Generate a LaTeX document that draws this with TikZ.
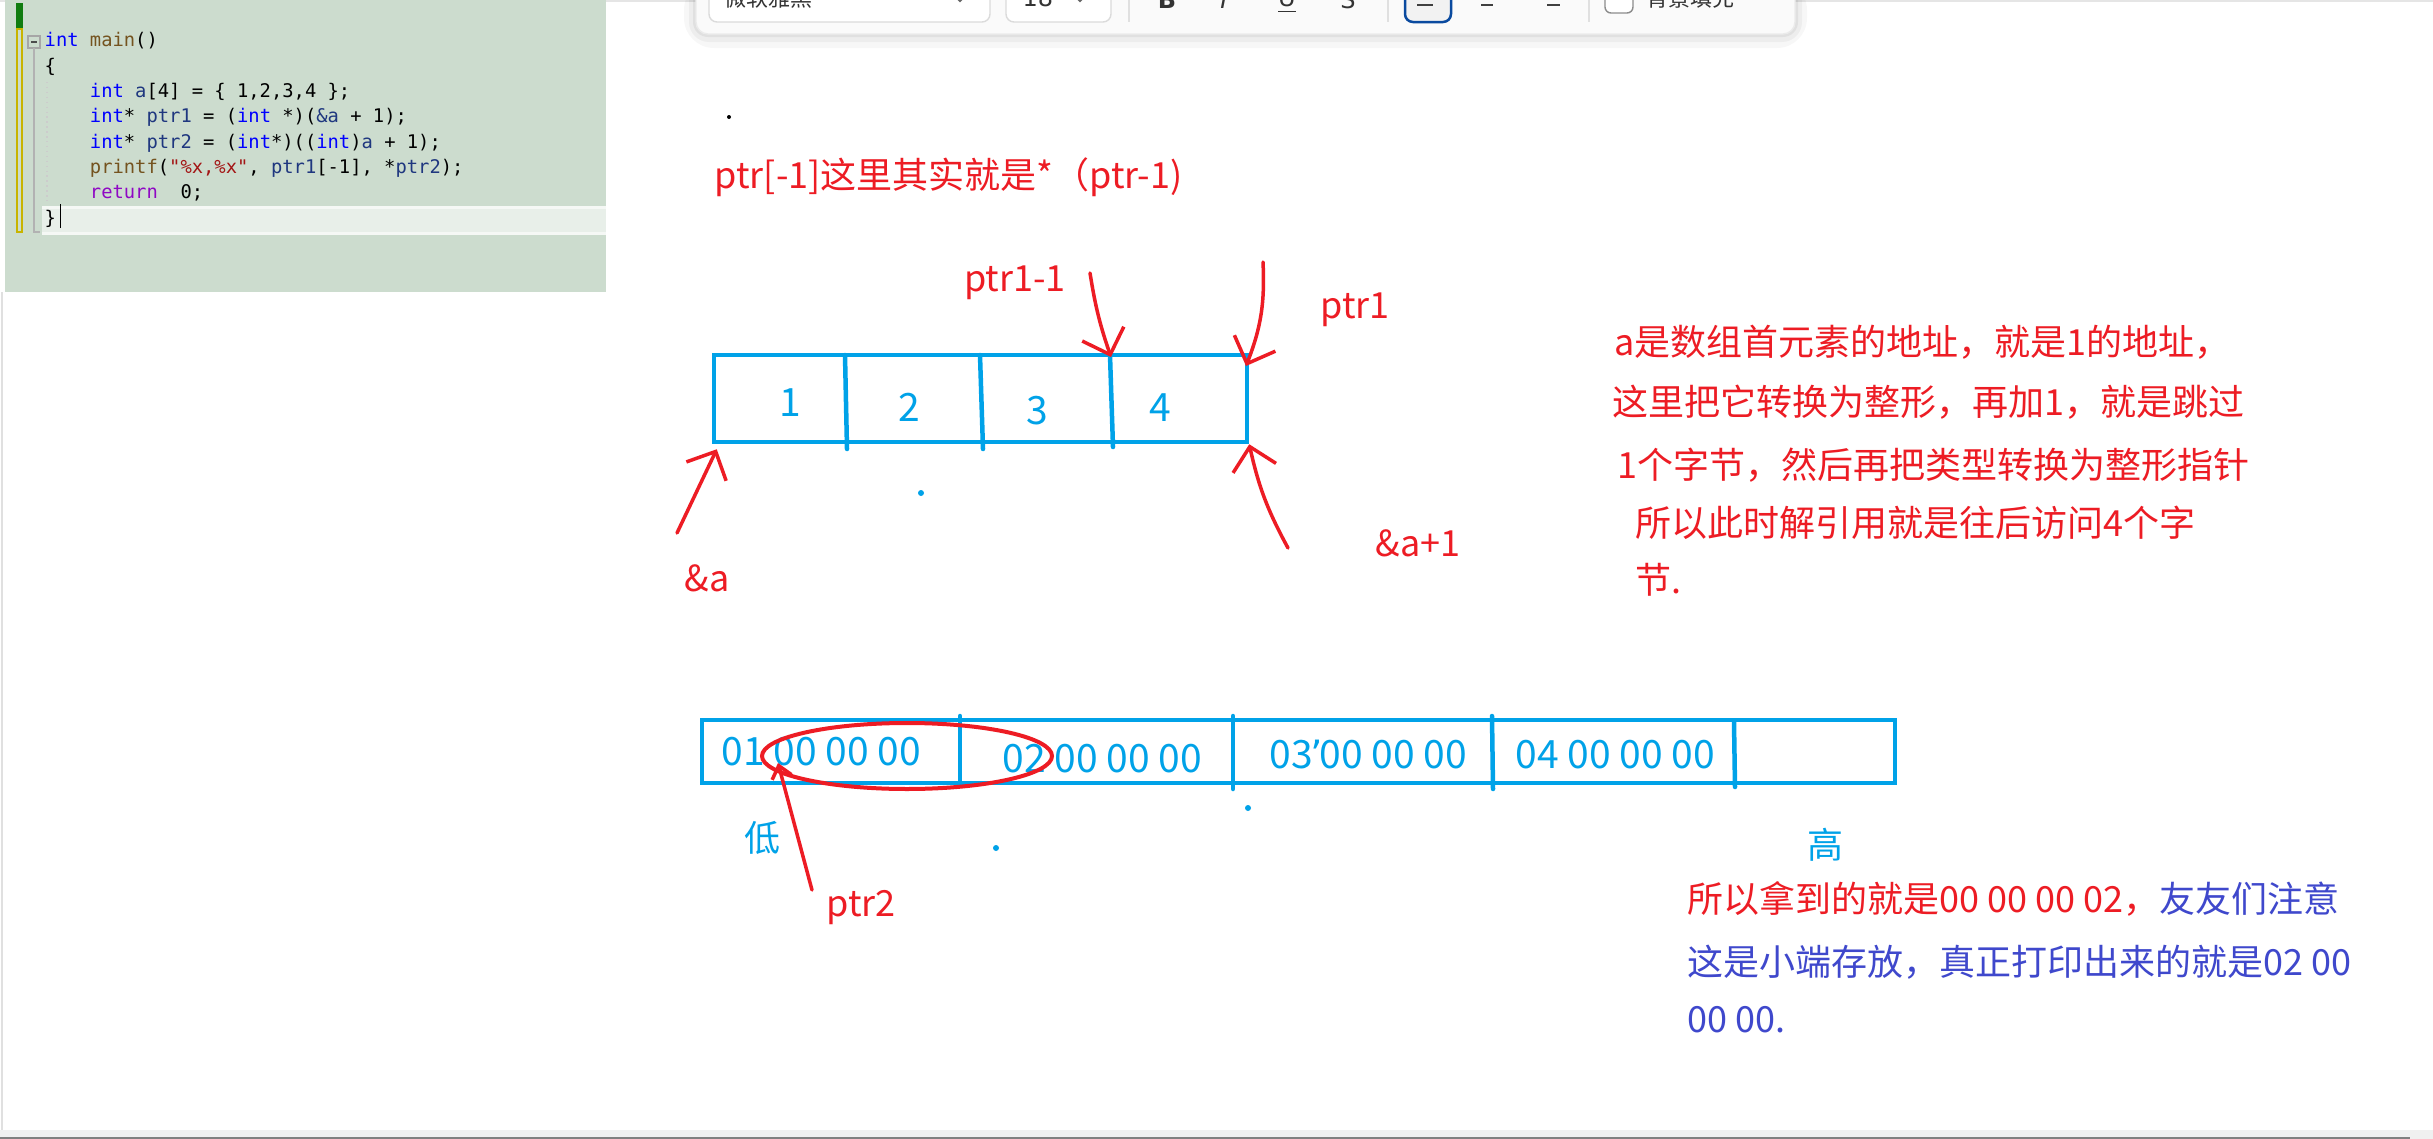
\documentclass[tikz,border=0pt]{standalone}
\usepackage{fontspec}
\usetikzlibrary{positioning,arrows.meta,shapes.geometric}
\newfontfamily\hand{Noto Sans CJK SC}
\newfontfamily\codefont{DejaVu Sans Mono}
\newfontfamily\uifont{DejaVu Sans}
\definecolor{penred}{RGB}{237,28,36}
\definecolor{penblue}{RGB}{0,162,232}
\definecolor{penindigo}{RGB}{63,72,204}
\definecolor{panelbg}{RGB}{204,220,206}
\definecolor{gutgreen}{RGB}{16,124,16}
\definecolor{gutyellow}{RGB}{200,180,0}
\definecolor{selblue}{RGB}{10,74,159}
\definecolor{kwblue}{RGB}{0,0,255}
\definecolor{fnbrown}{RGB}{116,83,31}
\definecolor{idblue}{RGB}{31,55,127}
\definecolor{strred}{RGB}{163,21,21}
\definecolor{retpurple}{RGB}{143,8,196}
\newcommand{\kw}[1]{\textcolor{kwblue}{#1}}
\newcommand{\fnname}[1]{\textcolor{fnbrown}{#1}}
\newcommand{\idn}[1]{\textcolor{idblue}{#1}}
\newcommand{\strlit}[1]{\textcolor{strred}{#1}}
\newcommand{\rtn}[1]{\textcolor{retpurple}{#1}}
\newcommand{\codeind}{\phantom{xxxx}}

\begin{document}
\begin{tikzpicture}[x=0.1mm, y=-0.1mm, node distance=2.53mm,
    handtext/.style={font=\hand\fontsize{3.6mm}{4.4mm}\selectfont, inner sep=0pt},
    redtext/.style={handtext, text=penred},
    bluetext/.style={handtext, text=penblue},
    celltext/.style={font=\hand\fontsize{3.9mm}{4.6mm}\selectfont, text=penblue, inner sep=0pt},
    codeline/.style={font=\codefont\fontsize{1.88mm}{2.3mm}\selectfont, anchor=base west, inner sep=0pt},
    uitext/.style={font=\uifont\fontsize{2.4mm}{2.8mm}\selectfont, text=black!80, inner sep=0pt, anchor=base},
    cellbox/.style={rectangle, draw=penblue, line width=0.45mm, inner sep=0pt},
    divider/.style={penblue, line width=0.45mm, line cap=round},
    redpen/.style={penred, line width=0.35mm, line cap=round},
    redarrow/.style={redpen, -{Straight Barb[length=2.2mm, width=4.4mm]}}]
    \useasboundingbox (0,0) rectangle (2433,1139);
    \clip (0,0) rectangle (2433,1139);
    \fill[white] (0,0) rectangle (2433,1139);
    \draw[black!10, line width=0.3mm] (0,1) -- (2433,1);

    % code panel
    \fill[panelbg] (5,0) rectangle (606,292);
    \fill[gutgreen] (16,3) rectangle (23,29);
    \draw[gutyellow, line width=0.25mm] (17,29) rectangle (22,232);
    \draw[black!35, line width=0.2mm] (28,36) rectangle (40,48);
    \draw[black!70, line width=0.2mm] (31,42) -- (37,42);
    \draw[black!30, line width=0.2mm] (34,48) -- (34,232) -- (40,232);
    \fill[panelbg!45!white] (42,207) rectangle (606,233);
    \draw[panelbg!20!white, line width=0.3mm] (42,207) -- (606,207) (42,233) -- (606,233);
    \draw[black!20, densely dotted] (47,82) -- (47,203);
    \node (l1) [codeline] at (44,47) {\kw{int} \fnname{main}()};
    \node (l2) [below=of l1.base west, codeline] {\{};
    \node (l3) [below=of l2.base west, codeline] {\codeind\kw{int} \idn{a}[4] = \{ 1,2,3,4 \};};
    \node (l4) [below=of l3.base west, codeline] {\codeind\kw{int}* \idn{ptr1} = (\kw{int} *)(\idn{\&a} + 1);};
    \node (l5) [below=of l4.base west, codeline] {\codeind\kw{int}* \idn{ptr2} = (\kw{int}*)((\kw{int})\idn{a} + 1);};
    \node (l6) [below=of l5.base west, codeline] {\codeind\fnname{printf}(\strlit{"\%x,\%x"}, \idn{ptr1}[-1], *\idn{ptr2});};
    \node (l7) [below=of l6.base west, codeline] {\codeind\rtn{return}~~0;};
    \node (l8) [below=of l7.base west, codeline] {\}};
    \draw[black, line width=0.15mm] (l8.base east) ++(4,4) -- ++(0,-24);
    \draw[black!12, line width=0.3mm] (2,292) -- (2,1130);

    % toolbar
    \fill[black, opacity=0.03, rounded corners=3mm] (684,-20) rectangle (1807,48);
    \fill[black, opacity=0.04, rounded corners=2mm] (689,-20) rectangle (1802,42);
    \fill[black, opacity=0.05, rounded corners=1.5mm] (693,-20) rectangle (1798,37);
    \filldraw[fill=black!2, draw=black!8, rounded corners=1.2mm] (696,-30) rectangle (1795,34);
    \filldraw[fill=white, draw=black!14, rounded corners=0.8mm] (709,-20) rectangle (990,22);
    \filldraw[fill=white, draw=black!14, rounded corners=0.8mm] (1006,-20) rectangle (1111,22);
    \draw[black!60, line width=0.2mm] (956,-3) -- (960,1) -- (964,-3);
    \draw[black!60, line width=0.2mm] (1076,-3) -- (1080,1) -- (1084,-3);
    \draw[black!12] (1129,-5) -- (1129,22);
    \draw[black!12] (1388,-5) -- (1388,22);
    \draw[black!12] (1589,-5) -- (1589,22);
    \filldraw[fill=black!5, draw=selblue, line width=0.25mm, rounded corners=0.8mm] (1405,-20) rectangle (1451,22);
    \draw[black!75, line width=0.25mm] (1417,5) -- (1433,5);
    \draw[black!75, line width=0.25mm] (1481,5) -- (1493,5);
    \draw[black!75, line width=0.25mm] (1547,5) -- (1560,5);
    \filldraw[fill=white, draw=black!45, rounded corners=0.6mm] (1605,-20) rectangle (1633,13);
    \node (fontbox) [handtext, text=black!80, font=\hand\fontsize{2.2mm}{2.6mm}\selectfont, anchor=base west] at (724,6) {微软雅黑};
    \node (sizebox) [uitext, anchor=base west] at (1022,6) {18};
    \node (boldbtn) [uitext] at (1167,8) {\bfseries B};
    \node (italbtn) [uitext] at (1224,8) {\itshape I};
    \node (underbtn) [uitext] at (1287,6) {\underline{U}};
    \node (strikebtn) [uitext] at (1348,8) {S};
    \node (fillbox) [handtext, text=black!80, font=\hand\fontsize{2.2mm}{2.6mm}\selectfont, anchor=base west] at (1646,6) {背景填充};
    \fill[black] (729,117) circle (0.2mm);

    % title
    \node (headline) [redtext, anchor=west] at (714,177) {ptr[-1]这里其实就是*（ptr-1)};

    % int array
    \node (arr) [cellbox, minimum width=53.3mm, minimum height=8.7mm] at (980.5,398.5) {};
    \draw[divider] (845,355) -- (847,449);
    \draw[divider] (980,355) -- (983,449);
    \draw[divider] (1110,355) -- (1113,447);
    \node (n1) [celltext] at (790,403) {1};
    \node (n2) [celltext] at (909,407) {2};
    \node (n3) [celltext] at (1037,411) {3};
    \node (n4) [celltext] at (1160,408) {4};
    \fill[penblue] (921,493) circle (0.3mm);

    \node (ptrprev) [redtext] at (1015,283) {ptr1-1};
    \node (ptrone) [redtext] at (1355,310) {ptr1};
    \node (addra) [redtext] at (707,578) {\&a};
    \node (addrnext) [redtext] at (1418,543) {\&a+1};
    \coordinate (ptrprevtail) at (1090,273);
    \coordinate (ptrprevtip) at (1111,357);
    \coordinate (ptronetail) at (1263,262);
    \coordinate (ptronetip) at (1246,366);
    \coordinate (addratail) at (677,533);
    \coordinate (addranexttail) at (1288,548);
    \draw[redarrow] (ptrprevtail) to[bend right=5] (ptrprevtip);
    \draw[redarrow] (ptronetail) to[bend left=12] (ptronetip);
    \draw[redarrow] (addratail) -- ([shift={(5,5)}]arr.south west);
    \draw[redarrow] (addranexttail) to[bend left=8] (arr.south east);

    % explanation
    \node (note1) [redtext, anchor=west] at (1614,342) {a是数组首元素的地址，就是1的地址，};
    \node (note2) [redtext, anchor=west] at (1612,402) {这里把它转换为整形，再加1，就是跳过};
    \node (note3) [redtext, anchor=west] at (1617,465) {1个字节，然后再把类型转换为整形指针};
    \node (note4) [redtext, anchor=west] at (1635,523) {所以此时解引用就是往后访问4个字};
    \node (note5) [redtext, anchor=west] at (1635,580) {节.};

    % byte layout
    \node (mem) [cellbox, minimum width=119.3mm, minimum height=6.3mm] at (1298.5,751.5) {};
    \draw[divider] (960,716) -- (960,781);
    \draw[divider] (1233,716) -- (1233,789);
    \draw[divider] (1492,716) -- (1493,789);
    \draw[divider] (1734,722) -- (1735,787);
    \node (b1) [celltext, anchor=west] at (721,752) {01 00 00 00};
    \node (b2) [celltext, anchor=west] at (1002,759) {02 00 00 00};
    \node (b3) [celltext, anchor=west] at (1269,755) {03{\uifont\kern-0.3mm’\kern-0.3mm}00 00 00};
    \node (b4) [celltext, anchor=west] at (1515,755) {04 00 00 00};
    \node (oval) [draw=penred, line width=0.4mm, ellipse, minimum width=29mm, minimum height=6.6mm, inner sep=0pt] at (907,756) {};
    \fill[penblue] (1248,808) circle (0.3mm);
    \fill[penblue] (996,848) circle (0.3mm);
    \node (low) [bluetext] at (762,838) {低};
    \node (high) [bluetext] at (1825,845) {高};
    \node (ptrtwo) [redtext] at (861,908) {ptr2};
    \coordinate (ptrtwotail) at (812,890);
    \coordinate (ptrtwotip) at (778,763);
    \draw[redpen, -{Straight Barb[length=1.2mm, width=2mm]}] (ptrtwotail) -- (ptrtwotip);

    % result
    \node (memo1) [handtext, text=penindigo, anchor=west] at (1687,899) {\textcolor{penred}{所以拿到的就是00 00 00 02，}友友们注意};
    \node (memo2) [handtext, text=penindigo, anchor=west] at (1687,962) {这是小端存放，真正打印出来的就是02 00};
    \node (memo3) [handtext, text=penindigo, anchor=west] at (1687,1020) {00 00.};

    % status bar
    \fill[black!6] (0,1130) rectangle (2433,1139);
    \draw[black!50, line width=0.2mm] (0,1138) -- (2410,1138);
\end{tikzpicture}
\end{document}
